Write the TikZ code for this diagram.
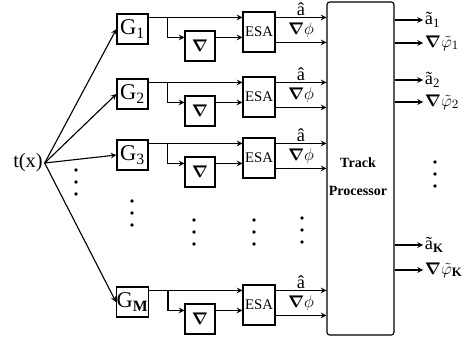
\documentclass[tikz,border=0pt]{standalone}
\usepackage{fontspec}
\setmainfont{Liberation Serif}
\usepackage{bm}
\usetikzlibrary{calc}
\begin{document}
\begin{tikzpicture}[x=0.025cm, y=-0.025cm, line width=0.8pt,
  gbox/.style={rectangle, draw, minimum width=0.775cm, minimum height=0.75cm,
               inner sep=0pt, font=\fontsize{16}{16}\selectfont},
  dbox/.style={rectangle, draw, minimum width=0.75cm, minimum height=0.75cm,
               inner sep=0pt, font=\large},
  esa/.style={rectangle, draw, minimum width=0.8cm, minimum height=1.0cm,
              inner sep=0pt, font=\fontsize{10.5}{10.5}\selectfont},
  proc/.style={rectangle, draw, rounded corners=2pt, minimum width=1.675cm,
               minimum height=8.325cm},
  lab/.style={inner sep=1pt, font=\fontsize{13}{13}\selectfont},
  arrow/.style={->, >=stealth}
]
  \useasboundingbox (0,0) rectangle (465,341);

  \node[inner sep=1pt, font=\fontsize{14.5}{14.5}\selectfont] (tx) at (28,163) {t(x)};

  \node[gbox] (G1) at (132.5,29) {G\textsubscript{1}};
  \node[gbox] (G2) at (132.5,94) {G\textsubscript{2}};
  \node[gbox] (G3) at (132.5,155) {G\textsubscript{3}};
  \node[gbox] (GM) at (132.5,302) {G\textsubscript{\textbf{M}}};

  \node[dbox] (D1) at (200,46) {$\bm{\nabla}$};
  \node[dbox] (D2) at (200,111) {$\bm{\nabla}$};
  \node[dbox] (D3) at (200,172) {$\bm{\nabla}$};
  \node[dbox] (DM) at (200,319) {$\bm{\nabla}$};

  \node[esa] (E1) at (259,32) {ESA};
  \node[esa] (E2) at (259,97) {ESA};
  \node[esa] (E3) at (259,158) {ESA};
  \node[esa] (EM) at (259,305) {ESA};

  \node[proc] (P) at (360.5,168.5) {};
  \node[font=\bfseries\fontsize{10}{20}\selectfont, align=center] (TP) at (358,177) {Track\\Processor};

  \draw[arrow] (tx.east) -- (G1.west);
  \draw[arrow] (tx.east) -- (G2.west);
  \draw[arrow] (tx.east) -- (G3.west);
  \draw[arrow] (tx.east) -- (GM.west);

  % row 1
  \draw[arrow] ($(G1.north east)+(0,4)$) coordinate (s1) -- (s1 -| E1.west);
  \draw[arrow] ($(s1)+(19,0)$) |- ($(D1.north west)+(0,7)$) coordinate (l1);
  \draw[arrow] (D1.east |- l1) -- (l1 -| E1.west);
  \draw[arrow] (s1 -| E1.east) -- (s1 -| P.west);
  \draw[arrow] ($(l1 -| E1.east)+(0,5)$) coordinate (o1) -- (o1 -| P.west);
  \node[lab, above] (h1) at ($(s1 -| E1.east)!0.5!(s1 -| P.west)$) {\^a};
  \node[lab] (f1) at ($(s1 -| E1.east)!0.5!(o1 -| P.west)$) {$\bm{\nabla}\phi$};

  % row 2
  \draw[arrow] ($(G2.north east)+(0,4)$) coordinate (s2) -- (s2 -| E2.west);
  \draw[arrow] ($(s2)+(19,0)$) |- ($(D2.north west)+(0,7)$) coordinate (l2);
  \draw[arrow] (D2.east |- l2) -- (l2 -| E2.west);
  \draw[arrow] (s2 -| E2.east) -- (s2 -| P.west);
  \draw[arrow] ($(l2 -| E2.east)+(0,5)$) coordinate (o2) -- (o2 -| P.west);
  \node[lab, above] (h2) at ($(s2 -| E2.east)!0.5!(s2 -| P.west)$) {\^a};
  \node[lab] (f2) at ($(s2 -| E2.east)!0.5!(o2 -| P.west)$) {$\bm{\nabla}\phi$};

  % row 3
  \draw[arrow] ($(G3.north east)+(0,4)$) coordinate (s3) -- (s3 -| E3.west);
  \draw[arrow] ($(s3)+(19,0)$) |- ($(D3.north west)+(0,7)$) coordinate (l3);
  \draw[arrow] (D3.east |- l3) -- (l3 -| E3.west);
  \draw[arrow] (s3 -| E3.east) -- (s3 -| P.west);
  \draw[arrow] ($(l3 -| E3.east)+(0,5)$) coordinate (o3) -- (o3 -| P.west);
  \node[lab, above] (h3) at ($(s3 -| E3.east)!0.5!(s3 -| P.west)$) {\^a};
  \node[lab] (f3) at ($(s3 -| E3.east)!0.5!(o3 -| P.west)$) {$\bm{\nabla}\phi$};

  % row M
  \draw[arrow] ($(GM.north east)+(0,4)$) coordinate (sM) -- (sM -| EM.west);
  \draw[arrow] ($(sM)+(19,0)$) |- ($(DM.north west)+(0,7)$) coordinate (lM);
  \draw[arrow] (DM.east |- lM) -- (lM -| EM.west);
  \draw[arrow] (sM -| EM.east) -- (sM -| P.west);
  \draw[arrow] ($(lM -| EM.east)+(0,5)$) coordinate (oM) -- (oM -| P.west);
  \node[lab, above] (hM) at ($(sM -| EM.east)!0.5!(sM -| P.west)$) {\^a};
  \node[lab] (fM) at ($(sM -| EM.east)!0.5!(oM -| P.west)$) {$\bm{\nabla}\phi$};

  % outputs
  \node[lab, anchor=west] (a1) at (423,20) {\~a\textsubscript{1}};
  \node[lab, anchor=west] (p1) at (423,43) {$\bm{\nabla}\tilde{\varphi}_{1}$};
  \node[lab, anchor=west] (a2) at (423,80) {\~a\textsubscript{2}};
  \node[lab, anchor=west] (p2) at (423,102) {$\bm{\nabla}\tilde{\varphi}_{2}$};
  \node[lab, anchor=west] (aK) at (423,245) {\~a\textsubscript{\textbf{K}}};
  \node[lab, anchor=west] (pK) at (423,270) {$\bm{\nabla}\tilde{\varphi}_{\mathbf{K}}$};
  \draw[arrow] (P.east |- a1) -- (a1.west);
  \draw[arrow] (P.east |- p1) -- (p1.west);
  \draw[arrow] (P.east |- a2) -- (a2.west);
  \draw[arrow] (P.east |- p2) -- (p2.west);
  \draw[arrow] (P.east |- aK) -- (aK.west);
  \draw[arrow] (P.east |- pK) -- (pK.west);

  % dots
  \foreach \x/\y in {76/170, 132/201, 194/220, 254/220, 302/218, 435/162}
    \foreach \d in {0,12,24}
      \fill (\x,\y+\d) circle (1.4pt);
\end{tikzpicture}
\end{document}
